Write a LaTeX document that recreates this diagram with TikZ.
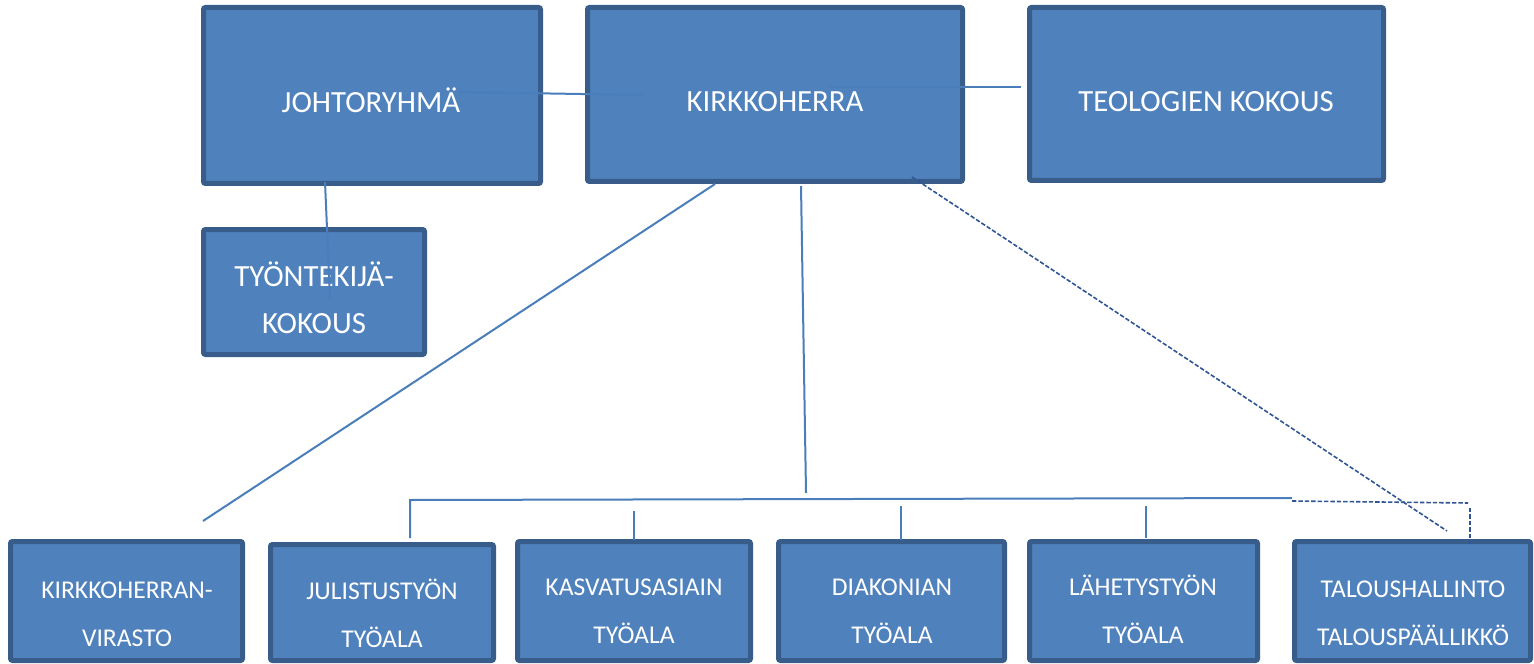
\documentclass[tikz,border=0pt]{standalone}
\usepackage{fontspec}
\setmainfont{Carlito}
\usepackage{xcolor}
\usetikzlibrary{positioning,calc}
\definecolor{boxfill}{HTML}{4F81BD}
\definecolor{boxline}{HTML}{385D8A}
\definecolor{conline}{HTML}{4A7EBB}
\definecolor{dashline}{HTML}{2F5597}
\tikzset{
  orgbox/.style={draw=boxline, fill=boxfill, line width=2.5pt, rounded corners=1pt, inner sep=0pt},
  bigtext/.style={text=white, inner sep=0pt, anchor=base, align=center, font=\fontsize{15.4}{23.5}\selectfont},
  smalltext/.style={text=white, inner sep=0pt, anchor=base, align=center, font=\fontsize{12.8}{24}\selectfont},
  conn/.style={draw=conline, line width=1pt},
  dashconn/.style={draw=dashline, line width=0.8pt, dash pattern=on 2.2pt off 1pt}
}
\begin{document}
\begin{tikzpicture}[x=0.5pt, y=-0.5pt]
    \useasboundingbox (0,0) rectangle (1534,663);
    % top row
    \node (johto) [orgbox, minimum width=337pt*0.5, minimum height=176pt*0.5] at (372,95.5) {};
    \node (kirkko) [orgbox, minimum width=375pt*0.5, minimum height=174pt*0.5] at (775,94.5) {};
    \node (teol) [orgbox, minimum width=354pt*0.5, minimum height=173pt*0.5] at (1206.5,94) {};
    \node (kokous) [orgbox, minimum width=221pt*0.5, minimum height=125pt*0.5] at (314,292) {};
    % bottom row
    \node (virasto) [orgbox, minimum width=232pt*0.5, minimum height=119pt*0.5] at (126.5,601) {};
    \node (julistus) [orgbox, minimum width=223pt*0.5, minimum height=116pt*0.5] at (382,602.5) {};
    \node (kasvatus) [orgbox, minimum width=233pt*0.5, minimum height=119pt*0.5] at (634,601) {};
    \node (diakonia) [orgbox, minimum width=226pt*0.5, minimum height=119pt*0.5] at (891.5,601) {};
    \node (lahetys) [orgbox, minimum width=228pt*0.5, minimum height=119pt*0.5] at (1143.5,601) {};
    \node (talous) [orgbox, minimum width=236pt*0.5, minimum height=119pt*0.5] at (1412.5,601) {};

    % texts (base = last line)
    \node (johto-t) [bigtext] at (371,113) {JOHTORYHMÄ};
    \node (kirkko-t) [bigtext] at (775,112) {KIRKKOHERRA};
    \node (teol-t) [bigtext] at (1206,112) {TEOLOGIEN KOKOUS};
    \node (kokous-t) [bigtext] at (314,333) {TYÖNTEKIJÄ-\\KOKOUS};
    \node (virasto-t) [smalltext] at (127,646) {KIRKKOHERRAN-\\VIRASTO};
    \node (julistus-t) [smalltext] at (382,647) {JULISTUSTYÖN\\TYÖALA};
    \node (kasvatus-t) [smalltext] at (634,643) {KASVATUSASIAIN\\TYÖALA};
    \node (diakonia-t) [smalltext] at (892,643) {DIAKONIAN\\TYÖALA};
    \node (lahetys-t) [smalltext] at (1143,643) {LÄHETYSTYÖN\\TYÖALA};
    \node (talous-t) [smalltext] at (1413,645) {TALOUSHALLINTO\\TALOUSPÄÄLLIKKÖ};

    % connectors
    \coordinate (j1) at (458,92); \coordinate (k1) at (642,95);
    \coordinate (k2) at (830,87); \coordinate (t1) at (1021,87);
    \coordinate (j2) at (325,182); \coordinate (o1) at (330,298);
    \coordinate (k3) at (715,184); \coordinate (v1) at (203,521);
    \coordinate (k4) at (801,186); \coordinate (b0) at (806,493);
    \coordinate (u1) at (410,538); \coordinate (b1) at (410,500); \coordinate (b2) at (1292,498);
    \coordinate (b3) at (1292,501); \coordinate (b4) at (1468,503); \coordinate (a1) at (1470,508); \coordinate (a2) at (1470,546);
    \coordinate (s1) at (634,511); \coordinate (s2) at (634,540);
    \coordinate (s3) at (901,506); \coordinate (s4) at (901,540);
    \coordinate (s5) at (1146,506); \coordinate (s6) at (1146,538);
    \coordinate (k5) at (912,177); \coordinate (d1) at (1447,531);
    \draw[conn] (j1) -- (k1); \draw[conn] (k2) -- (t1); \draw[conn] (j2) -- (o1);
    \draw[conn] (k3) -- (v1); \draw[conn] (k4) -- (b0);
    \draw[conn] (u1) -- (b1) -- (b2);
    \draw[conn] (s1) -- (s2); \draw[conn] (s3) -- (s4); \draw[conn] (s5) -- (s6);
    \draw[dashconn] (b3) -- (b4); \draw[dashconn] (a1) -- (a2); \draw[dashconn] (k5) -- (d1);
\end{tikzpicture}
\end{document}
